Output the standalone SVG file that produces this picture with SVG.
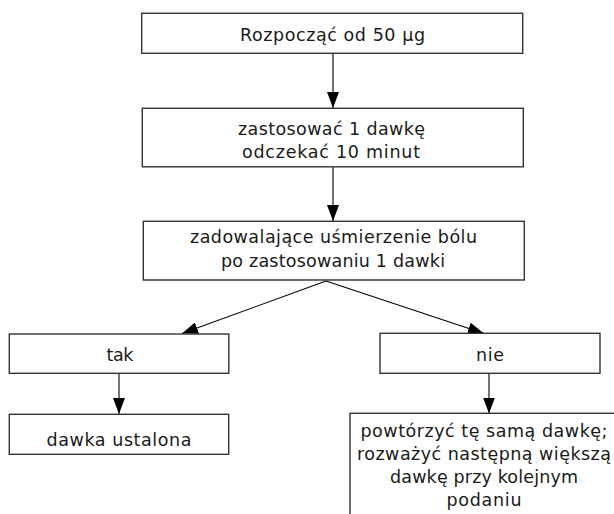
<svg xmlns="http://www.w3.org/2000/svg" width="614" height="514" viewBox="0 0 614 514">
<defs>
<style>
.box{fill:#fff;stroke:#333;stroke-width:1.4}
.t{font-family:"DejaVu Sans","Liberation Sans",sans-serif;font-size:17.5px;fill:#1a1a1a;text-anchor:middle}
.c{stroke:#000;stroke-width:1.1;fill:none}
</style>
<marker id="ah" viewBox="0 0 16 12" refX="16" refY="6" markerWidth="16" markerHeight="12" markerUnits="userSpaceOnUse" orient="auto">
<path d="M0,0 L16,6 L0,12 Z" fill="#000"/>
</marker>
</defs>
<rect width="614" height="514" fill="#fff"/>
<g id="connectors">
<line class="c" x1="333" y1="53" x2="333" y2="108" marker-end="url(#ah)"/>
<line class="c" x1="333" y1="167" x2="333" y2="221" marker-end="url(#ah)"/>
<line class="c" x1="326" y1="281" x2="182" y2="333.5" marker-end="url(#ah)"/>
<line class="c" x1="326" y1="281" x2="484" y2="333.5" marker-end="url(#ah)"/>
<line class="c" x1="119" y1="373.5" x2="119" y2="414" marker-end="url(#ah)"/>
<line class="c" x1="489" y1="373.5" x2="489" y2="413.5" marker-end="url(#ah)"/>
</g>
<g id="start">
<rect class="box" x="141.7" y="13.3" width="381" height="40"/>
<text class="t" x="332.5" y="41" textLength="185">Rozpocząć od 50 µg</text>
</g>
<g id="dose">
<rect class="box" x="142.3" y="108.3" width="381" height="58.5"/>
<text class="t" x="331.5" y="135" textLength="187">zastosować 1 dawkę</text>
<text class="t" x="331" y="158" textLength="178">odczekać 10 minut</text>
</g>
<g id="check">
<rect class="box" x="143.3" y="221.3" width="381" height="58.7"/>
<text class="t" x="333.5" y="243" textLength="287">zadowalające uśmierzenie bólu</text>
<text class="t" x="333" y="267" textLength="224">po zastosowaniu 1 dawki</text>
</g>
<g id="yes">
<rect class="box" x="9.3" y="334" width="219.5" height="39.3"/>
<text class="t" x="120" y="360.5" textLength="27">tak</text>
</g>
<g id="no">
<rect class="box" x="380" y="333.3" width="220" height="40"/>
<text class="t" x="490" y="360.5" textLength="28">nie</text>
</g>
<g id="fixed">
<rect class="box" x="9.3" y="414.3" width="219.4" height="40"/>
<text class="t" x="119" y="446" textLength="145">dawka ustalona</text>
</g>
<g id="repeat">
<rect class="box" x="350" y="413.3" width="280" height="120"/>
<text class="t" x="484" y="437" textLength="247">powtórzyć tę samą dawkę;</text>
<text class="t" x="484" y="460" textLength="254">rozważyć następną większą</text>
<text class="t" x="484" y="483" textLength="188">dawkę przy kolejnym</text>
<text class="t" x="484" y="506" textLength="75">podaniu</text>
</g>
</svg>
